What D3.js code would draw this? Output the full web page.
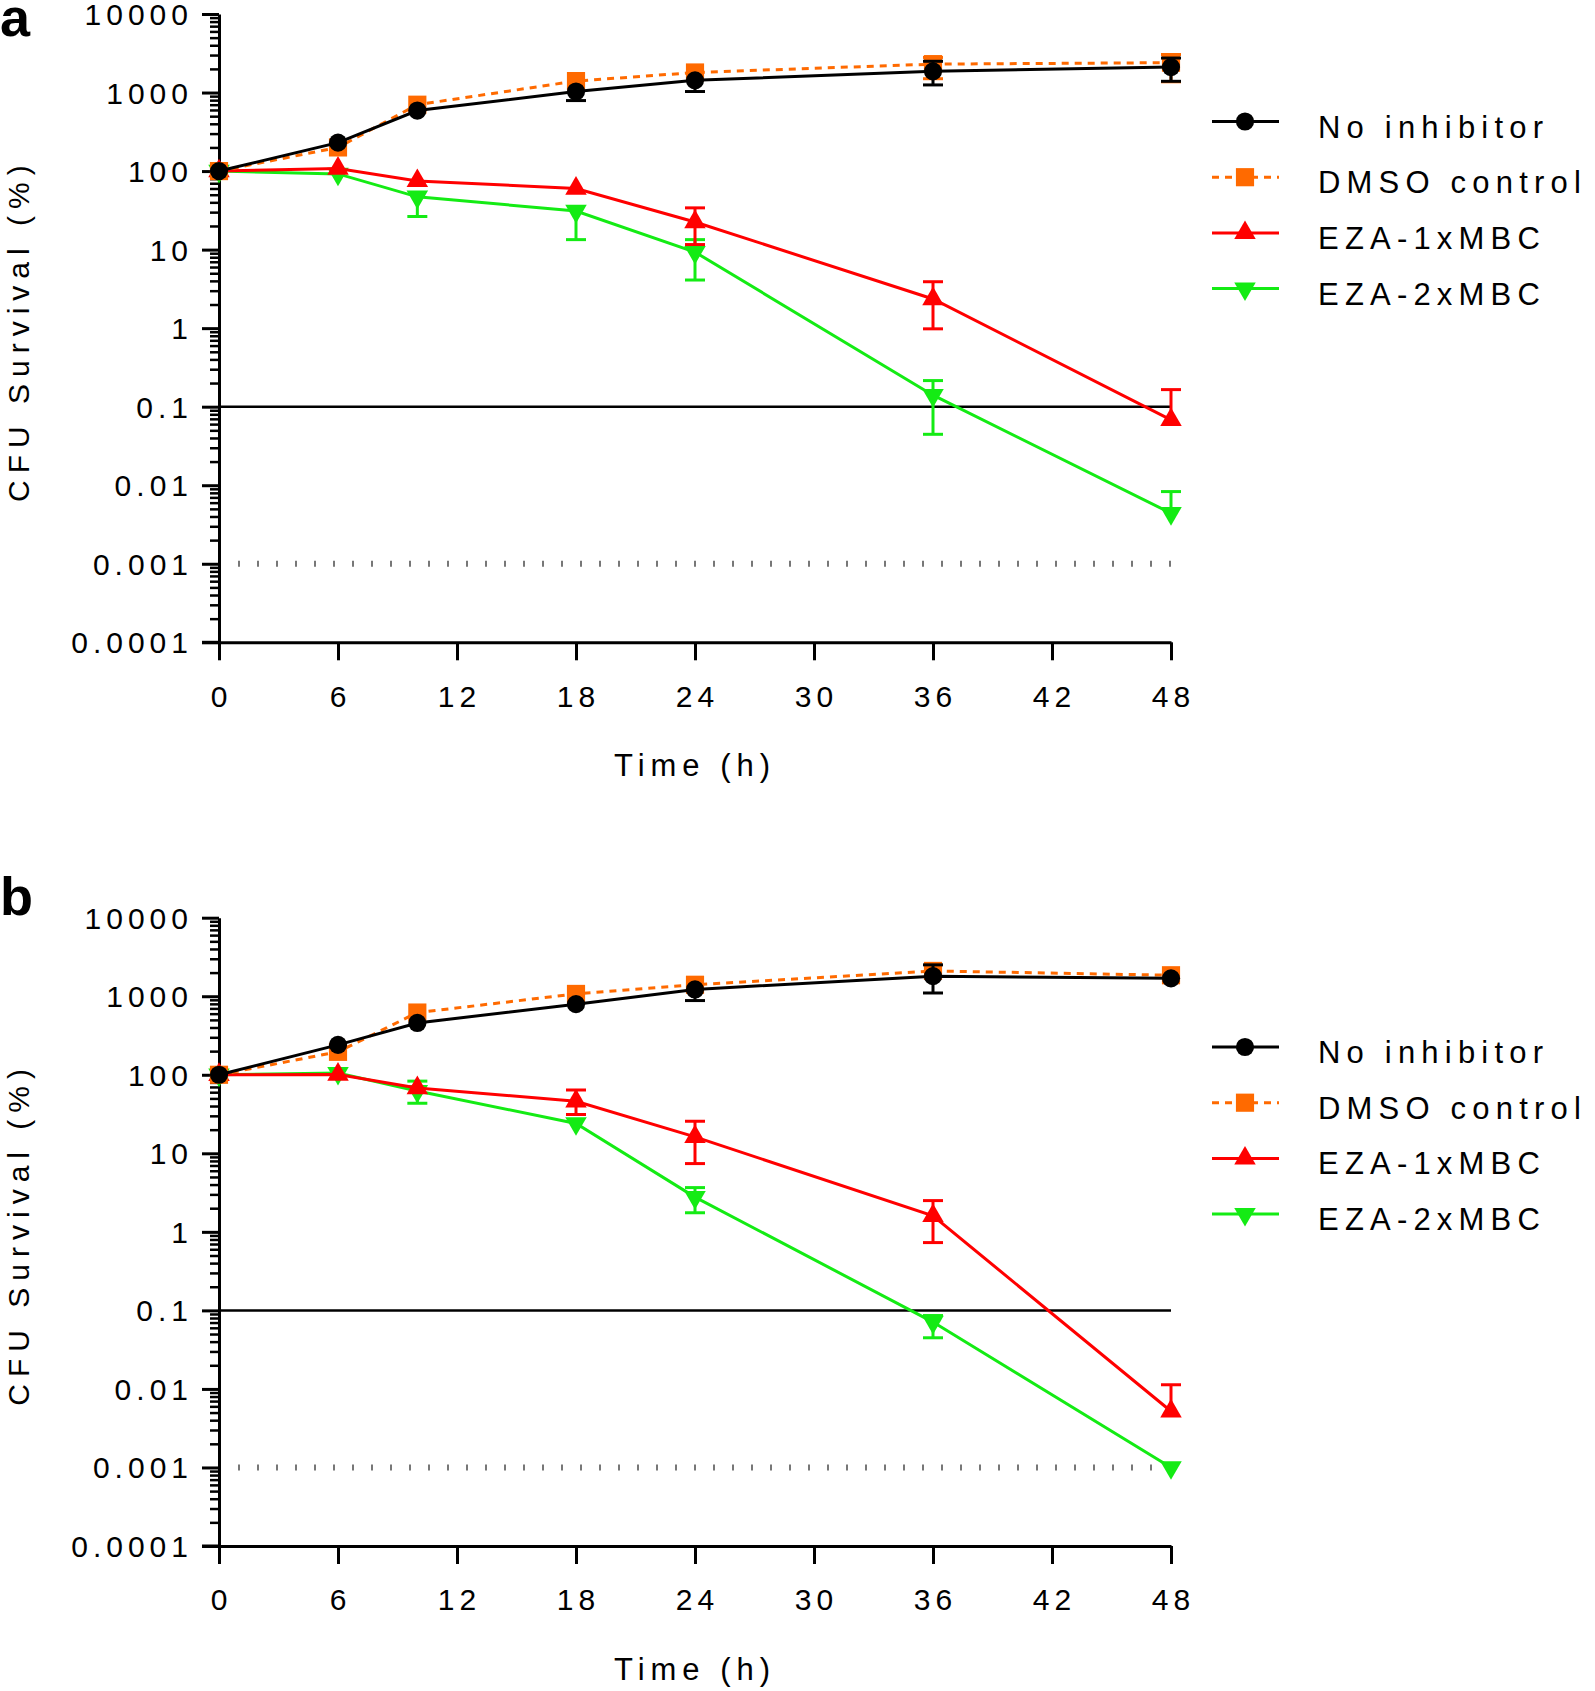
<!DOCTYPE html>
<html><head><meta charset="utf-8">
<script src="https://cdn.jsdelivr.net/npm/d3@7"></script>
<style>
html,body{margin:0;padding:0;background:#fff;}
svg{display:block;}
text{font-family:"Liberation Sans",Arial,sans-serif;fill:#000;}
</style></head>
<body>
<svg id="chart" width="1595" height="1691"></svg>
<script>
// ---------- data ----------
const times = [0, 6, 10, 18, 24, 36, 48];
const xTicks = [0, 6, 12, 18, 24, 30, 36, 42, 48];
const yTickLabels = ["0.0001", "0.001", "0.01", "0.1", "1", "10", "100", "1000", "10000"];
const seriesNames = ["No inhibitor", "DMSO control", "EZA-1xMBC", "EZA-2xMBC"];
const seriesColors = ["#000000", "#ff6a00", "#ff0000", "#14eb14"];

// Panel a
const aNoInhibitor = [100, 230, 590, 1030, 1430, 1860, 2110];
const aNoInhibitorHi = [null, null, null, null, null, 2500, 2750];
const aNoInhibitorLo = [null, null, null, 790, 1030, 1250, 1390];
const aDMSO = [100, 200, 700, 1400, 1800, 2300, 2400];
const aDMSOHi = [null, null, null, null, null, 2800, 3050];
const aDMSOLo = [null, null, null, null, null, 1500, 1370];
const aEZA1 = [100, 108, 75, 60, 22.5, 2.35, 0.068];
const aEZA1Hi = [null, null, null, null, 34, 3.9, 0.165];
const aEZA1Lo = [null, null, null, null, 11.6, 0.98, null];
const aEZA2 = [100, 92, 47, 31, 9.3, 0.14, 0.0044];
const aEZA2Hi = [null, null, null, null, 13.4, 0.215, 0.0083];
const aEZA2Lo = [null, null, 26.4, 13.4, 4.1, 0.0445, null];

// Panel b
const bNoInhibitor = [100, 240, 457, 793, 1220, 1800, 1690];
const bNoInhibitorHi = [null, null, null, null, null, 2510, null];
const bNoInhibitorLo = [null, null, null, null, 881, 1100, null];
const bDMSO = [100, 196, 620, 1070, 1400, 2100, 1850];
const bDMSOHi = [null, null, null, null, null, null, null];
const bDMSOLo = [null, null, null, null, null, null, null];
const bEZA1 = [100, 101, 68, 46, 16.2, 1.6, 0.0052];
const bEZA1Hi = [null, null, null, 64, 25.6, 2.5, 0.0113];
const bEZA1Lo = [null, null, null, 31.2, 7.4, 0.73, null];
const bEZA2 = [100, 105, 62, 24, 2.77, 0.071, 0.001];
const bEZA2Hi = [null, null, 83, null, 3.66, 0.086, null];
const bEZA2Lo = [null, null, 43.4, null, 1.75, 0.0448, null];

const thresholdLine = 0.1;
const detectionLimit = 0.001;

// ---------- drawing ----------
const svg = d3.select("#chart");
const shapes = [d3.symbolCircle, d3.symbolSquare, d3.symbolTriangle, d3.symbolTriangle];
const shapeSizes = [260, 330, 200, 200];
const shapeRot = [0, 0, 0, 180];

function drawPanel(cfg) {
  const x = d3.scaleLinear().domain([0, 48]).range([219, 1171]);
  const y = d3.scaleLog().domain([1e-4, 1e4]).range([cfg.bottom, cfg.top]);
  const g = svg.append("g");

  // reference lines
  g.append("line").attr("x1", x(0)).attr("x2", x(48))
    .attr("y1", y(thresholdLine)).attr("y2", y(thresholdLine))
    .attr("stroke", "#000").attr("stroke-width", 2.5);
  g.append("line").attr("x1", x(0)).attr("x2", x(48))
    .attr("y1", y(detectionLimit)).attr("y2", y(detectionLimit))
    .attr("stroke", "#777").attr("stroke-width", 6)
    .attr("stroke-dasharray", "2,17");

  // y axis
  const majors = yTickLabels.map(Number);
  const minors = [];
  for (let e = -4; e < 4; e++) for (let m = 2; m <= 9; m++) minors.push(m * Math.pow(10, e));
  const yMin = g.append("g").attr("transform", `translate(${x(0)},0)`)
    .call(d3.axisLeft(y).tickValues(minors).tickSize(9).tickFormat(""));
  yMin.select(".domain").remove();
  yMin.selectAll("line").attr("stroke-width", 2.5);
  const yAx = g.append("g").attr("transform", `translate(${x(0)},0)`)
    .call(d3.axisLeft(y).tickValues(majors).tickSize(17).tickSizeOuter(0)
      .tickFormat((d, i) => yTickLabels[i]));
  yAx.select(".domain").attr("stroke-width", 3);
  yAx.selectAll("line").attr("stroke-width", 3);
  yAx.selectAll("text").attr("font-size", 30).attr("letter-spacing", 5)
    .attr("x", -26).attr("dy", "0.35em")
    .style("font-family", "'Liberation Sans',Arial,sans-serif");

  // x axis
  const xAx = g.append("g").attr("transform", `translate(0,${cfg.bottom})`)
    .call(d3.axisBottom(x).tickValues(xTicks).tickSize(18).tickSizeOuter(0));
  xAx.select(".domain").attr("stroke-width", 3);
  xAx.selectAll("line").attr("stroke-width", 3);
  xAx.selectAll("text").attr("font-size", 30).attr("letter-spacing", 5)
    .attr("y", 43).attr("dy", "0.71em").attr("dx", 2)
    .style("font-family", "'Liberation Sans',Arial,sans-serif");
  g.append("line").attr("x1", 202).attr("x2", x(0))
    .attr("y1", cfg.bottom).attr("y2", cfg.bottom).attr("stroke", "#000").attr("stroke-width", 3);

  // axis titles
  g.append("text").attr("x", 695).attr("y", cfg.bottom + 134)
    .attr("text-anchor", "middle").attr("font-size", 31).attr("letter-spacing", 6)
    .text("Time (h)");
  const cy = (cfg.top + cfg.bottom) / 2 + 2;
  g.append("text").attr("transform", `translate(29,${cy}) rotate(-90)`)
    .attr("text-anchor", "middle").attr("font-size", 30).attr("letter-spacing", 7)
    .text("CFU Survival (%)");

  // panel letter
  g.append("text").attr("x", 0).attr("y", cfg.letterY).attr("font-size", 54)
    .attr("font-weight", "bold").text(cfg.letter);

  // series (draw green, red, orange, black)
  const order = [3, 2, 1, 0];
  order.forEach(si => {
    const s = cfg.series[si];
    const col = seriesColors[si];
    const sg = g.append("g");
    times.forEach((t, i) => {
      const hi = s.hi[i], lo = s.lo[i];
      const cx = x(t);
      [hi, lo].forEach(b => {
        if (b == null) return;
        sg.append("line").attr("x1", cx).attr("x2", cx).attr("y1", y(s.v[i])).attr("y2", y(b))
          .attr("stroke", col).attr("stroke-width", 3);
        sg.append("line").attr("x1", cx - 10).attr("x2", cx + 10).attr("y1", y(b)).attr("y2", y(b))
          .attr("stroke", col).attr("stroke-width", 3);
      });
    });
    const line = d3.line().x((d, i) => x(times[i])).y(d => y(d));
    sg.append("path").datum(s.v).attr("d", line).attr("fill", "none")
      .attr("stroke", col).attr("stroke-width", 3)
      .attr("stroke-dasharray", si === 1 ? "7,6" : null);
    const sym = d3.symbol().type(shapes[si]).size(shapeSizes[si]);
    sg.selectAll("path.m").data(s.v).enter().append("path").attr("class", "m")
      .attr("d", sym).attr("fill", col)
      .attr("transform", (d, i) => `translate(${x(times[i])},${y(d)}) rotate(${shapeRot[si]})`);
  });

  // legend
  seriesNames.forEach((name, si) => {
    const ly = cfg.legendY + si * 55.7;
    const col = seriesColors[si];
    g.append("line").attr("x1", 1212).attr("x2", 1279).attr("y1", ly).attr("y2", ly)
      .attr("stroke", col).attr("stroke-width", 3)
      .attr("stroke-dasharray", si === 1 ? "7,6" : null);
    g.append("path").attr("d", d3.symbol().type(shapes[si]).size(shapeSizes[si])())
      .attr("fill", col).attr("transform", `translate(1245,${ly}) rotate(${shapeRot[si]})`);
    g.append("text").attr("x", 1318).attr("y", ly + 16).attr("font-size", 31)
      .attr("letter-spacing", 6.2).text(name);
  });
}

drawPanel({
  letter: "a", letterY: 36, top: 14, bottom: 642.3, legendY: 121.5,
  series: [
    {v: aNoInhibitor, hi: aNoInhibitorHi, lo: aNoInhibitorLo},
    {v: aDMSO, hi: aDMSOHi, lo: aDMSOLo},
    {v: aEZA1, hi: aEZA1Hi, lo: aEZA1Lo},
    {v: aEZA2, hi: aEZA2Hi, lo: aEZA2Lo}
  ]
});
drawPanel({
  letter: "b", letterY: 915, top: 917.7, bottom: 1546, legendY: 1047,
  series: [
    {v: bNoInhibitor, hi: bNoInhibitorHi, lo: bNoInhibitorLo},
    {v: bDMSO, hi: bDMSOHi, lo: bDMSOLo},
    {v: bEZA1, hi: bEZA1Hi, lo: bEZA1Lo},
    {v: bEZA2, hi: bEZA2Hi, lo: bEZA2Lo}
  ]
});
</script>
</body></html>
